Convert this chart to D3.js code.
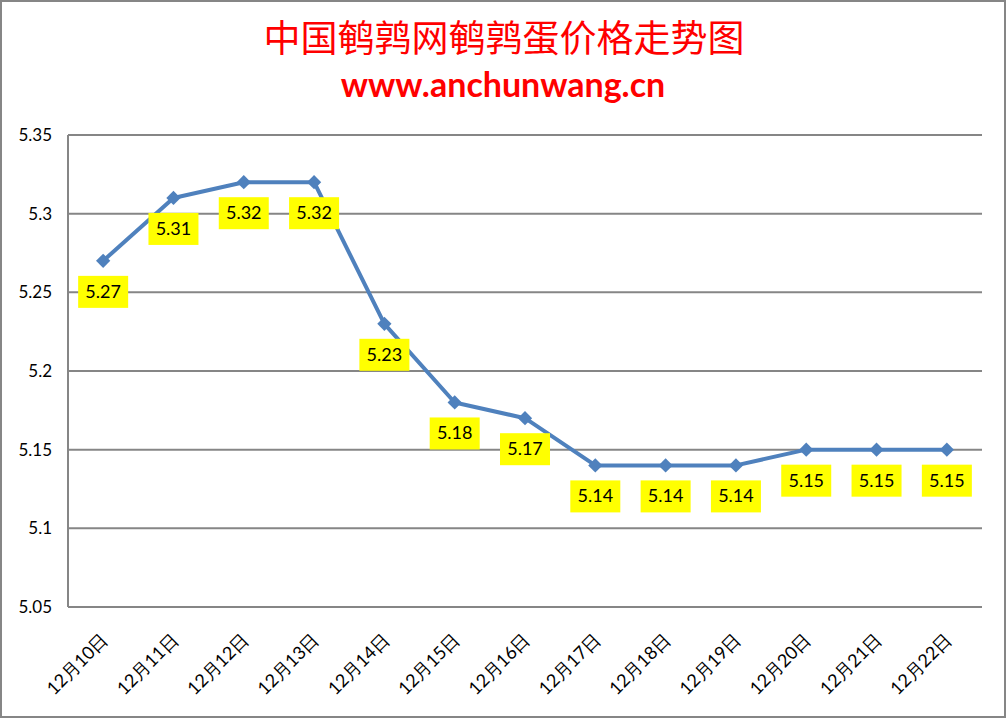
<!DOCTYPE html>
<html>
<head>
<meta charset="utf-8">
<script src="https://cdn.jsdelivr.net/npm/d3@7"></script>
<style>
  body { margin: 0; background: #fff; }
  svg { display: block; }
</style>
</head>
<body>
<svg id="chart"></svg>
<script>
// chart data
const dates = ["12月10日", "12月11日", "12月12日", "12月13日", "12月14日", "12月15日", "12月16日",
  "12月17日", "12月18日", "12月19日", "12月20日", "12月21日", "12月22日"];
const prices = [5.27, 5.31, 5.32, 5.32, 5.23, 5.18, 5.17, 5.14, 5.14, 5.14, 5.15, 5.15, 5.15];
const yTicks = [5.05, 5.1, 5.15, 5.2, 5.25, 5.3, 5.35];

const width = 1007, height = 719;
const plot = { left: 68, top: 135, right: 982, bottom: 607 };
const latin = "Lato, 'Open Sans', sans-serif";

const svg = d3.select("#chart").attr("width", width).attr("height", height);

// outer frame
svg.append("rect")
  .attr("x", 1).attr("y", 1)
  .attr("width", width - 3).attr("height", height - 3)
  .attr("fill", "#fff").attr("stroke", "#868686").attr("stroke-width", 2);

// titles
svg.append("text")
  .attr("x", 504).attr("y", 52)
  .attr("text-anchor", "middle")
  .attr("font-family", "'Noto Sans CJK SC', sans-serif")
  .attr("font-size", 37)
  .attr("fill", "#ff0000")
  .text("中国鹌鹑网鹌鹑蛋价格走势图");

svg.append("text")
  .attr("x", 503).attr("y", 97)
  .attr("text-anchor", "middle")
  .attr("font-family", latin)
  .attr("font-weight", "bold")
  .attr("font-size", 34)
  .attr("fill", "#ff0000")
  .text("www.anchunwang.cn");

const x = d3.scaleBand().domain(dates).range([plot.left, plot.right]);
const y = d3.scaleLinear().domain([5.05, 5.35]).range([plot.bottom, plot.top]);
const cx = d => x(d) + x.bandwidth() / 2;

// gridlines
svg.append("g")
  .selectAll("line")
  .data(yTicks)
  .enter().append("line")
  .attr("x1", plot.left).attr("x2", plot.right)
  .attr("y1", d => y(d)).attr("y2", d => y(d))
  .attr("stroke", "#868686").attr("stroke-width", 2);

// left axis line
svg.append("line")
  .attr("x1", plot.left).attr("x2", plot.left)
  .attr("y1", plot.top).attr("y2", plot.bottom)
  .attr("stroke", "#868686").attr("stroke-width", 2);

// y tick labels
svg.append("g")
  .selectAll("text")
  .data(yTicks)
  .enter().append("text")
  .attr("x", 52)
  .attr("y", d => y(d) + 6)
  .attr("text-anchor", "end")
  .attr("font-family", latin)
  .attr("font-size", 17)
  .attr("fill", "#000")
  .text(d => d3.format("")(+d.toFixed(2)));

// x labels rotated
svg.append("g")
  .selectAll("text")
  .data(dates)
  .enter().append("text")
  .attr("transform", d => `translate(${cx(d) + 6},${641}) rotate(-45)`)
  .attr("text-anchor", "end")
  .attr("font-family", latin)
  .attr("font-size", 18)
  .attr("fill", "#000")
  .text(d => d);

// line
const line = d3.line()
  .x((d, i) => cx(dates[i]))
  .y(d => y(d));

svg.append("path")
  .datum(prices)
  .attr("d", line)
  .attr("fill", "none")
  .attr("stroke", "#4f81bd")
  .attr("stroke-width", 4)
  .attr("stroke-linejoin", "round");

// diamond markers
svg.append("g")
  .selectAll("path")
  .data(prices)
  .enter().append("path")
  .attr("d", d3.symbol().type(d3.symbolDiamond2).size(130))
  .attr("transform", (d, i) => `translate(${cx(dates[i])},${y(d)})`)
  .attr("fill", "#4f81bd");

// data labels
const labels = svg.append("g")
  .selectAll("g")
  .data(prices)
  .enter().append("g")
  .attr("transform", (d, i) => `translate(${cx(dates[i])},${y(d) + 31})`);

labels.append("rect")
  .attr("x", -25).attr("y", -16)
  .attr("width", 50).attr("height", 32)
  .attr("fill", "#ffff00");

labels.append("text")
  .attr("y", 6)
  .attr("text-anchor", "middle")
  .attr("font-family", latin)
  .attr("font-size", 18)
  .attr("fill", "#000")
  .text(d => d.toFixed(2));
</script>
</body>
</html>
